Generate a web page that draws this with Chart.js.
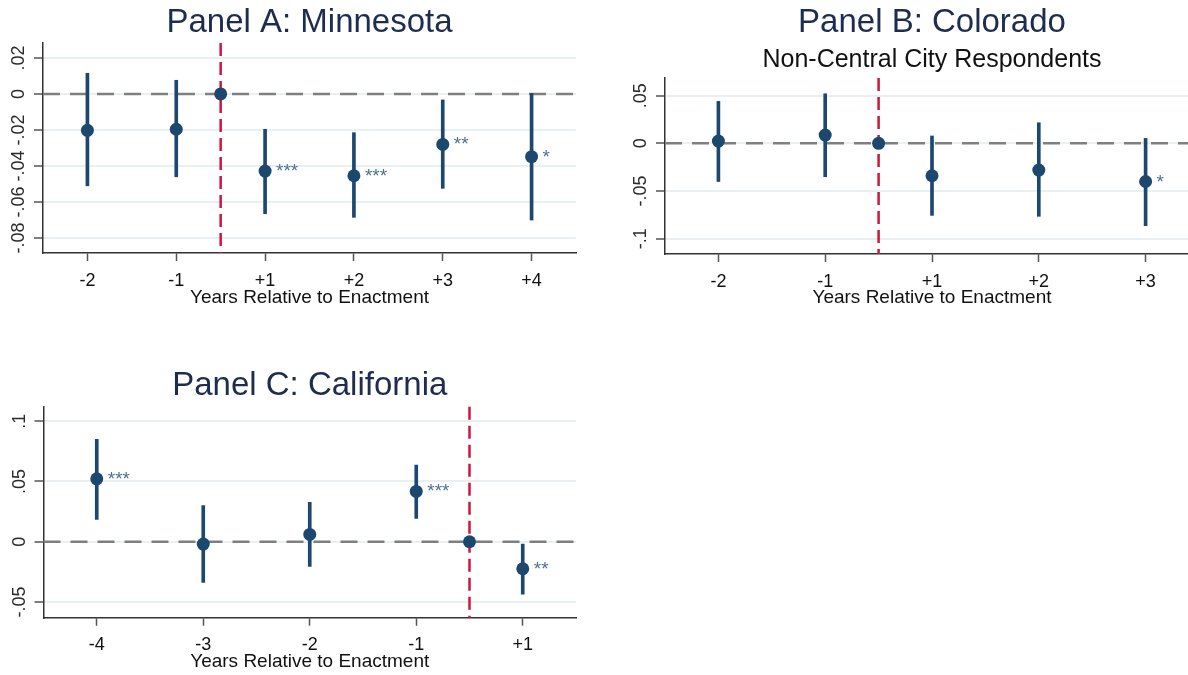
<!DOCTYPE html>
<html>
<head>
<meta charset="utf-8">
<script src="https://cdn.jsdelivr.net/npm/chart.js@4.4.1/dist/chart.umd.min.js"></script>
<style>
  html, body { margin: 0; padding: 0; background: #fff; overflow: hidden; width: 1188px; height: 675px; }
  canvas { position: absolute; }
</style>
</head>
<body>
<canvas id="panelA" width="600" height="320" style="left:0px;top:0px"></canvas>
<canvas id="panelB" width="600" height="320" style="left:620px;top:0px"></canvas>
<canvas id="panelC" width="600" height="315" style="left:0px;top:360px"></canvas>
<script>
// Panel A: Minnesota
var aLabels = ['-2', '-1', '+1', '+2', '+3', '+4'];
var aCoef = [-0.0202, -0.0196, -0.0428, -0.0454, -0.0280, -0.0348];
var aLow = [-0.0510, -0.0460, -0.0665, -0.0685, -0.0524, -0.0700];
var aHigh = [0.0115, 0.0076, -0.0196, -0.0215, -0.0033, 0.0003];
var aStars = ['', '', '***', '***', '**', '*'];
var aEvent = 1.5; // enactment sits between -1 and +1
var aYTicks = [0.02, 0, -0.02, -0.04, -0.06, -0.08];

// Panel B: Colorado
var bLabels = ['-2', '-1', '+1', '+2', '+3'];
var bCoef = [0.0024, 0.0087, -0.0340, -0.0280, -0.0400];
var bLow = [-0.0400, -0.0350, -0.0755, -0.0765, -0.0863];
var bHigh = [0.0440, 0.0520, 0.0077, 0.0216, 0.0052];
var bStars = ['', '', '', '', '*'];
var bEvent = 1.5;
var bYTicks = [0.05, 0, -0.05, -0.1];

// Panel C: California
var cLabels = ['-4', '-3', '-2', '-1', '+1'];
var cCoef = [0.0522, -0.0019, 0.0061, 0.0417, -0.0224];
var cLow = [0.0185, -0.0337, -0.0205, 0.0193, -0.0434];
var cHigh = [0.0849, 0.0299, 0.0326, 0.0636, -0.0019];
var cStars = ['***', '', '', '***', '**'];
var cEvent = 3.5;
var cYTicks = [0.1, 0.05, 0, -0.05];

var NAVY = '#1c4870';
var FONT = "'Liberation Sans', Arial, sans-serif";
Chart.defaults.font.family = FONT;

// stata style tick text: .02, -.05, 0
function stataFmt(v) {
    if (v === 0) return '0';
    var s = String(Math.round(v * 1000) / 1000);
    return s.replace('0.', '.');
}

var refLines = {
    id: 'refLines',
    beforeDatasetsDraw: function (chart, args, opts) {
        var ctx = chart.ctx, area = chart.chartArea;
        var x = chart.scales.x, y = chart.scales.y;
        ctx.save();
        // zero line
        var y0 = y.getPixelForValue(0);
        ctx.strokeStyle = '#7f7f7f';
        ctx.lineWidth = 2.5;
        ctx.setLineDash([17, 10]);
        ctx.beginPath();
        ctx.moveTo(area.left, y0);
        ctx.lineTo(area.right, y0);
        ctx.stroke();
        // enactment line
        var xe = x.getPixelForValue(opts.event);
        ctx.strokeStyle = '#d0143c';
        ctx.lineWidth = 2.5;
        ctx.setLineDash([13, 6]);
        ctx.beginPath();
        ctx.moveTo(xe, area.top);
        ctx.lineTo(xe, area.bottom);
        ctx.stroke();
        ctx.restore();
    },
    afterDatasetsDraw: function (chart, args, opts) {
        var ctx = chart.ctx;
        var x = chart.scales.x, y = chart.scales.y;
        ctx.save();
        // significance stars
        ctx.fillStyle = '#4f7192';
        ctx.font = '19px ' + FONT;
        ctx.textAlign = 'left';
        ctx.textBaseline = 'alphabetic';
        opts.stars.forEach(function (s, i) {
            if (!s) return;
            ctx.fillText(s, x.getPixelForValue(i) + 11, y.getPixelForValue(opts.coef[i]) + 6);
        });
        // rotated y tick labels
        ctx.fillStyle = '#2a2a2a';
        ctx.font = '18px ' + FONT;
        ctx.textAlign = 'center';
        y.ticks.forEach(function (t) {
            ctx.save();
            ctx.translate(chart.chartArea.left - 25, y.getPixelForValue(t.value));
            ctx.rotate(-Math.PI / 2);
            ctx.fillText(stataFmt(t.value), 0, 18 * 0.36);
            ctx.restore();
        });
        ctx.restore();
    }
};

function makePanel(id, p) {
    var pts = p.coef.map(function (v, i) { return {x: i, y: v}; });
    pts.push({x: p.event, y: 0});
    var cis = p.low.map(function (v, i) { return {x: i, y: [v, p.high[i]]}; });

    var titlePlugin = {
        display: true,
        text: p.title,
        color: '#1e2d4f',
        fullSize: false,
        font: {size: 33, weight: 'normal', lineHeight: 1.2},
        padding: p.titlePad
    };

    return new Chart(document.getElementById(id), {
        type: 'bar',
        data: {
            datasets: [
                {
                    type: 'scatter',
                    data: pts,
                    backgroundColor: NAVY,
                    borderWidth: 0,
                    pointRadius: 6.5,
                    pointHoverRadius: 6.5
                },
                {
                    type: 'bar',
                    data: cis,
                    backgroundColor: NAVY,
                    borderWidth: 0,
                    barThickness: 3
                }
            ]
        },
        options: {
            responsive: false,
            animation: false,
            layout: {padding: {left: 0, right: p.padRight, top: 0, bottom: 0}},
            plugins: {
                legend: {display: false},
                tooltip: {enabled: false},
                title: titlePlugin,
                subtitle: p.subtitle ? {
                    display: true,
                    text: p.subtitle,
                    color: '#111',
                    fullSize: false,
                    font: {size: 25, lineHeight: 1.2},
                    padding: p.subPad
                } : {display: false},
                refLines: {event: p.event, stars: p.stars, coef: p.coef}
            },
            scales: {
                x: {
                    type: 'linear',
                    offset: false,
                    min: -0.5,
                    max: p.labels.length - 0.5,
                    afterBuildTicks: function (scale) {
                        scale.ticks = p.labels.map(function (l, i) { return {value: i}; });
                    },
                    afterFit: function (scale) { scale.height = p.xHeight; },
                    ticks: {
                        autoSkip: false,
                        maxRotation: 0,
                        padding: 9,
                        color: '#111',
                        font: {size: 18},
                        callback: function (v) { return p.labels[v]; }
                    },
                    grid: {
                        offset: false,
                        drawOnChartArea: false,
                        drawTicks: true,
                        tickLength: 8,
                        tickColor: '#555',
                        tickWidth: 1.5
                    },
                    border: {color: '#333', width: 1.5},
                    title: {
                        display: true,
                        text: 'Years Relative to Enactment',
                        color: '#111',
                        font: {size: 19, lineHeight: 1.2},
                        padding: {top: 0, bottom: p.xTitlePad}
                    }
                },
                y: {
                    type: 'linear',
                    min: p.yMin,
                    max: p.yMax,
                    afterBuildTicks: function (scale) {
                        scale.ticks = p.yTicks.map(function (v) { return {value: v}; });
                    },
                    afterFit: function (scale) { scale.width = p.yWidth; },
                    ticks: {display: false},
                    grid: {
                        color: '#e8f0f2',
                        lineWidth: 2,
                        drawTicks: true,
                        tickLength: 9,
                        tickColor: '#555',
                        tickWidth: 1.5
                    },
                    border: {color: '#333', width: 1.5}
                }
            }
        },
        plugins: [refLines]
    });
}

makePanel('panelA', {
    title: 'Panel A: Minnesota',
    labels: aLabels, coef: aCoef, low: aLow, high: aHigh, stars: aStars,
    event: aEvent, yTicks: aYTicks, yMin: -0.0883, yMax: 0.0283,
    titlePad: {top: 3.4, bottom: 0},
    padRight: 24, yWidth: 43, xHeight: 67, xTitlePad: 10.6
});

makePanel('panelB', {
    title: 'Panel B: Colorado',
    subtitle: 'Non-Central City Respondents',
    labels: bLabels, coef: bCoef, low: bLow, high: bHigh, stars: bStars,
    event: bEvent, yTicks: bYTicks, yMin: -0.116, yMax: 0.0685,
    titlePad: {top: 3, bottom: 0},
    subPad: {top: 2.4, bottom: 3},
    padRight: 21, yWidth: 45, xHeight: 66, xTitlePad: 10.6
});

makePanel('panelC', {
    title: 'Panel C: California',
    labels: cLabels, coef: cCoef, low: cLow, high: cHigh, stars: cStars,
    event: cEvent, yTicks: cYTicks, yMin: -0.063, yMax: 0.112,
    titlePad: {top: 6.2, bottom: 0.9},
    padRight: 24, yWidth: 43.5, xHeight: 57.3, xTitlePad: 2.1
});
</script>
</body>
</html>
